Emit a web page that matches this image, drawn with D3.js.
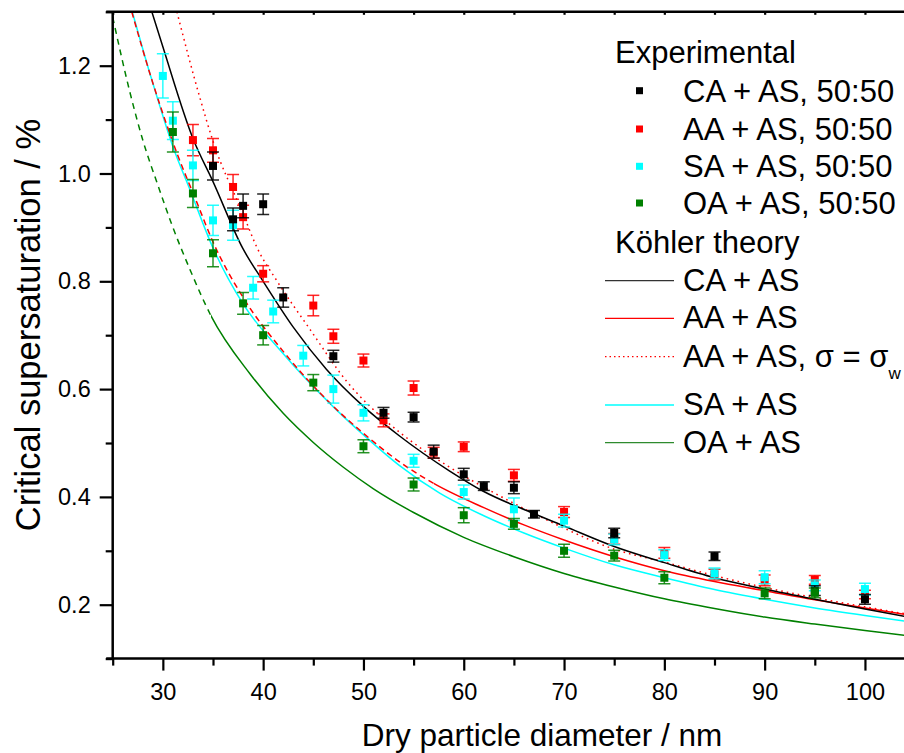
<!DOCTYPE html>
<html><head><meta charset="utf-8">
<script src="https://cdn.jsdelivr.net/npm/d3@7"></script>
<style>
html,body{margin:0;padding:0;background:#fff;}
svg{display:block;font-family:"Liberation Sans",Arial,Helvetica,sans-serif;}
</style></head>
<body>
<svg id="chart" width="904" height="753"></svg>
<script>
// ---------- Experimental data (diameter nm, Sc %, error %) ----------
const caX   = [35, 37, 38, 40, 42, 47, 52, 55, 57, 60, 62, 65, 67, 75, 85, 95, 100];
const caY   = [1.014, 0.915, 0.940, 0.943, 0.770, 0.661, 0.556, 0.548, 0.484, 0.442, 0.420, 0.417, 0.368, 0.333, 0.290, 0.226, 0.210];
const caErr = [0.026, 0.021, 0.022, 0.019, 0.018, 0.011, 0.010, 0.009, 0.012, 0.011, 0.008, 0.011, 0.007, 0.009, 0.008, 0.009, 0.009];

const aaX   = [33, 35, 37, 38, 40, 45, 47, 50, 52, 55, 57, 60, 65, 70, 75, 80, 85, 90, 95, 100];
const aaY   = [1.062, 1.043, 0.975, 0.919, 0.814, 0.755, 0.698, 0.653, 0.542, 0.602, 0.482, 0.493, 0.440, 0.372, 0.322, 0.296, 0.256, 0.245, 0.246, 0.219];
const aaErr = [0.029, 0.022, 0.023, 0.022, 0.015, 0.019, 0.013, 0.012, 0.012, 0.013, 0.010, 0.009, 0.011, 0.010, 0.010, 0.010, 0.010, 0.010, 0.008, 0.008];

const saX   = [30, 31, 33, 35, 37, 39, 41, 44, 47, 50, 55, 60, 65, 70, 75, 80, 85, 90, 95, 100];
const saY   = [1.181, 1.098, 1.015, 0.913, 0.904, 0.788, 0.744, 0.662, 0.600, 0.556, 0.467, 0.409, 0.377, 0.356, 0.321, 0.292, 0.258, 0.251, 0.236, 0.229];
const saErr = [0.041, 0.035, 0.028, 0.028, 0.028, 0.021, 0.021, 0.019, 0.026, 0.015, 0.012, 0.013, 0.021, 0.012, 0.010, 0.010, 0.010, 0.012, 0.010, 0.011];

const oaX   = [31, 33, 35, 38, 40, 45, 50, 55, 60, 65, 70, 75, 80, 90, 95];
const oaY   = [1.077, 0.963, 0.852, 0.759, 0.700, 0.612, 0.494, 0.423, 0.366, 0.350, 0.300, 0.291, 0.250, 0.221, 0.222];
const oaErr = [0.037, 0.026, 0.025, 0.020, 0.018, 0.015, 0.012, 0.012, 0.014, 0.010, 0.012, 0.010, 0.011, 0.010, 0.009];

// ---------- Köhler theory curves ----------
const caThD = [28.9, 30, 33, 35, 38, 40, 43, 46.3, 50, 53.6, 58.6, 62, 66.6, 70, 75, 80, 85, 90, 95, 100, 105];
const caThS = [1.30, 1.235, 1.065, 0.985, 0.86, 0.80, 0.715, 0.637, 0.568, 0.513, 0.448, 0.41, 0.372, 0.346, 0.308, 0.278, 0.25, 0.229, 0.21, 0.192, 0.175];

// AA + AS: dashed below 57 nm, solid above
const aaDashD = [26.9, 29, 31.4, 33.4, 35, 38, 42, 47, 50, 53.6, 57];
const aaDashS = [1.30, 1.168, 1.038, 0.946, 0.873, 0.77, 0.67, 0.568, 0.518, 0.465, 0.425];
const aaSolidD = [62, 66, 70, 75, 80, 85, 90, 95, 100, 105];
const aaSolidS = [0.38, 0.348, 0.32, 0.289, 0.263, 0.243, 0.226, 0.209, 0.194, 0.179];
const aaSplit = 57;

const aaSwD = [31.4, 33.7, 35, 38, 39.4, 41.4, 44.7, 48.3, 52.3, 55, 58.6, 62, 66.9, 70, 75, 80, 85, 90, 95, 100, 105];
const aaSwS = [1.30, 1.14, 1.06, 0.925, 0.862, 0.80, 0.71, 0.615, 0.54, 0.50, 0.455, 0.418, 0.37, 0.342, 0.303, 0.279, 0.254, 0.232, 0.213, 0.196, 0.18];

const saThD = [26.95, 28.7, 29.7, 31, 32.7, 35, 38, 41.7, 47, 50, 53.6, 57.6, 62, 66, 70, 75, 80, 85, 90, 95, 100, 105];
const saThS = [1.30, 1.186, 1.125, 1.05, 0.97, 0.862, 0.758, 0.672, 0.567, 0.515, 0.458, 0.407, 0.365, 0.333, 0.305, 0.274, 0.25, 0.228, 0.21, 0.194, 0.18, 0.167];

// OA + AS: dashed below 34.8 nm, solid above
const oaDashD = [25.0, 26.7, 28, 29.55, 30.9, 32.7, 34.8];
const oaDashS = [1.29, 1.152, 1.062, 0.976, 0.905, 0.822, 0.736];
const oaSolidD = [38.7, 42, 45, 48, 51, 55, 60, 65, 70, 75, 80, 85, 90, 95, 100, 105];
const oaSolidS = [0.628, 0.555, 0.501, 0.455, 0.415, 0.371, 0.325, 0.289, 0.258, 0.233, 0.211, 0.193, 0.177, 0.164, 0.152, 0.141];
const oaSplit = 34.8;

const xMajor = [30, 40, 50, 60, 70, 80, 90, 100];
const xMinor = [25, 35, 45, 55, 65, 75, 85, 95, 105];
const yMajor = [0.2, 0.4, 0.6, 0.8, 1.0, 1.2];
const yMinor = [0.1, 0.3, 0.5, 0.7, 0.9, 1.1, 1.3];

// ---------- Layout ----------
const svg = d3.select("#chart");
const pL = 112.7, pT = 11.8, pB = 658.6;
const x = d3.scaleLinear().domain([25, 105]).range([pL, pL + 80 * 10.03]);
const y = d3.scaleLinear().domain([0.1, 1.3]).range([pB, pT]);

const C = {ca: "#000000", aa: "#ff0000", sa: "#00ffff", oa: "#008000"};

const defs = svg.append("defs");
defs.append("clipPath").attr("id", "plotclip")
  .append("rect").attr("x", pL).attr("y", pT).attr("width", 904 - pL).attr("height", pB - pT);
function splitClips(id, split) {
  defs.append("clipPath").attr("id", id + "L")
    .append("rect").attr("x", 0).attr("y", 0).attr("width", x(split)).attr("height", 753);
  defs.append("clipPath").attr("id", id + "R")
    .append("rect").attr("x", x(split)).attr("y", 0).attr("width", 904 - x(split)).attr("height", 753);
}
splitClips("oa", oaSplit);
splitClips("aa", aaSplit);

const plot = svg.append("g").attr("clip-path", "url(#plotclip)");

const line = d3.line().x(d => x(d[0])).y(d => y(d[1])).curve(d3.curveMonotoneX);
const zip = (a, b) => a.map((v, i) => [v, b[i]]);

function curve(D, S, color, dash, clip) {
  const p = plot.append("path").datum(zip(D, S))
    .attr("d", line).attr("fill", "none").attr("stroke", color)
    .attr("stroke-width", 1.5).attr("stroke-dasharray", dash || null);
  if (clip) p.attr("clip-path", `url(#${clip})`);
}
const oaAllD = oaDashD.concat(oaSolidD), oaAllS = oaDashS.concat(oaSolidS);
curve(oaAllD, oaAllS, C.oa, "6,5", "oaL");
curve(oaAllD, oaAllS, C.oa, null, "oaR");
curve(saThD, saThS, C.sa);
const aaAllD = aaDashD.concat(aaSolidD), aaAllS = aaDashS.concat(aaSolidS);
curve(aaAllD, aaAllS, C.aa, "6,4", "aaL");
curve(aaAllD, aaAllS, C.aa, null, "aaR");
curve(aaSwD, aaSwS, C.aa, "1.6,4");
curve(caThD, caThS, C.ca);

// ---------- Experimental points with error bars ----------
function points(X, Y, E, color) {
  const g = plot.append("g");
  const data = X.map((v, i) => ({d: v, s: Y[i], e: E[i]}));
  const eb = g.selectAll("g.eb").data(data).enter().append("g")
    .attr("stroke", color).attr("stroke-width", 1.5).attr("stroke-opacity", 0.85);
  eb.append("line").attr("x1", d => x(d.d)).attr("x2", d => x(d.d))
    .attr("y1", d => y(d.s + d.e)).attr("y2", d => y(d.s - d.e));
  eb.append("line").attr("x1", d => x(d.d) - 6).attr("x2", d => x(d.d) + 6)
    .attr("y1", d => y(d.s + d.e)).attr("y2", d => y(d.s + d.e));
  eb.append("line").attr("x1", d => x(d.d) - 6).attr("x2", d => x(d.d) + 6)
    .attr("y1", d => y(d.s - d.e)).attr("y2", d => y(d.s - d.e));
  g.selectAll("rect").data(data).enter().append("rect")
    .attr("x", d => x(d.d) - 4).attr("y", d => y(d.s) - 4)
    .attr("width", 8).attr("height", 8).attr("fill", color);
}
points(aaX, aaY, aaErr, C.aa);
points(saX, saY, saErr, C.sa);
points(caX, caY, caErr, C.ca);
points(oaX, oaY, oaErr, C.oa);

// ---------- Axes ----------
const axW = 2.5;
const ax = svg.append("g");
ax.append("line").attr("x1", pL - 6.5).attr("x2", 904).attr("y1", pB).attr("y2", pB)
  .attr("stroke", "#000").attr("stroke-width", axW);
ax.append("line").attr("x1", pL - 6.5).attr("x2", 904).attr("y1", pT).attr("y2", pT)
  .attr("stroke", "#000").attr("stroke-width", axW);
ax.append("line").attr("x1", pL).attr("x2", pL).attr("y1", pT).attr("y2", pB)
  .attr("stroke", "#000").attr("stroke-width", axW);

function styleAxis(g) {
  g.select(".domain").remove();
  g.selectAll(".tick line").attr("stroke", "#000").attr("stroke-width", 2.2);
  g.selectAll(".tick text").attr("fill", "#000").attr("font-size", 23.5)
    .attr("font-family", "Liberation Sans, Arial, sans-serif");
}
svg.append("g").attr("transform", `translate(0,${pB})`)
  .call(d3.axisBottom(x).tickValues(xMajor).tickSize(12).tickPadding(13).tickFormat(d3.format("d")))
  .call(styleAxis);
svg.append("g").attr("transform", `translate(0,${pB})`)
  .call(d3.axisBottom(x).tickValues(xMinor).tickSize(7).tickFormat(""))
  .call(styleAxis);
svg.append("g").attr("transform", `translate(0,${pT})`)
  .call(d3.axisBottom(x).tickValues(xMajor.concat(xMinor)).tickSize(3).tickFormat(""))
  .call(styleAxis);
svg.append("g").attr("transform", `translate(${pL},0)`)
  .call(d3.axisLeft(y).tickValues(yMajor).tickSize(13).tickPadding(9).tickFormat(d3.format(".1f")))
  .call(styleAxis);
svg.append("g").attr("transform", `translate(${pL},0)`)
  .call(d3.axisLeft(y).tickValues(yMinor).tickSize(7).tickFormat(""))
  .call(styleAxis);

// Axis titles
svg.append("text").attr("x", 542).attr("y", 746).attr("text-anchor", "middle")
  .attr("font-size", 31.5).text("Dry particle diameter / nm");
svg.append("text").attr("transform", "translate(40,325) rotate(-90)").attr("text-anchor", "middle")
  .attr("font-size", 34.5).text("Critical supersaturation / %");

// ---------- Legend ----------
const lg = svg.append("g").attr("font-size", 31);
lg.append("text").attr("x", 615).attr("y", 63).text("Experimental");
const expLegend = [
  {label: "CA + AS, 50:50", color: C.ca, yb: 101.7},
  {label: "AA + AS, 50:50", color: C.aa, yb: 140},
  {label: "SA + AS, 50:50", color: C.sa, yb: 177.3},
  {label: "OA + AS, 50:50", color: C.oa, yb: 214}
];
expLegend.forEach(e => {
  lg.append("rect").attr("x", 636).attr("y", e.yb - 14.5).attr("width", 7).attr("height", 7).attr("fill", e.color);
  lg.append("text").attr("x", 683).attr("y", e.yb).text(e.label);
});
lg.append("text").attr("x", 615).attr("y", 252.7).text("Köhler theory");
const thLegend = [
  {label: "CA + AS", color: "#333", dash: null, yl: 280.7, yb: 291},
  {label: "AA + AS", color: C.aa, dash: null, yl: 318.3, yb: 328.3},
  {label: "AA + AS, σ = σ", color: C.aa, dash: "1.5,3", yl: 356.7, yb: 366.7, sub: "w"},
  {label: "SA + AS", color: C.sa, dash: null, yl: 405, yb: 415},
  {label: "OA + AS", color: "#2e8b2e", dash: null, yl: 442.7, yb: 453.3}
];
thLegend.forEach(t => {
  lg.append("line").attr("x1", 605).attr("x2", 674).attr("y1", t.yl).attr("y2", t.yl)
    .attr("stroke", t.color).attr("stroke-width", 1.3).attr("stroke-dasharray", t.dash);
  const tx = lg.append("text").attr("x", 683).attr("y", t.yb).text(t.label);
  if (t.sub) {
    tx.append("tspan").attr("font-size", 17).attr("dy", 12).text(t.sub);
  }
});
</script>
</body></html>
